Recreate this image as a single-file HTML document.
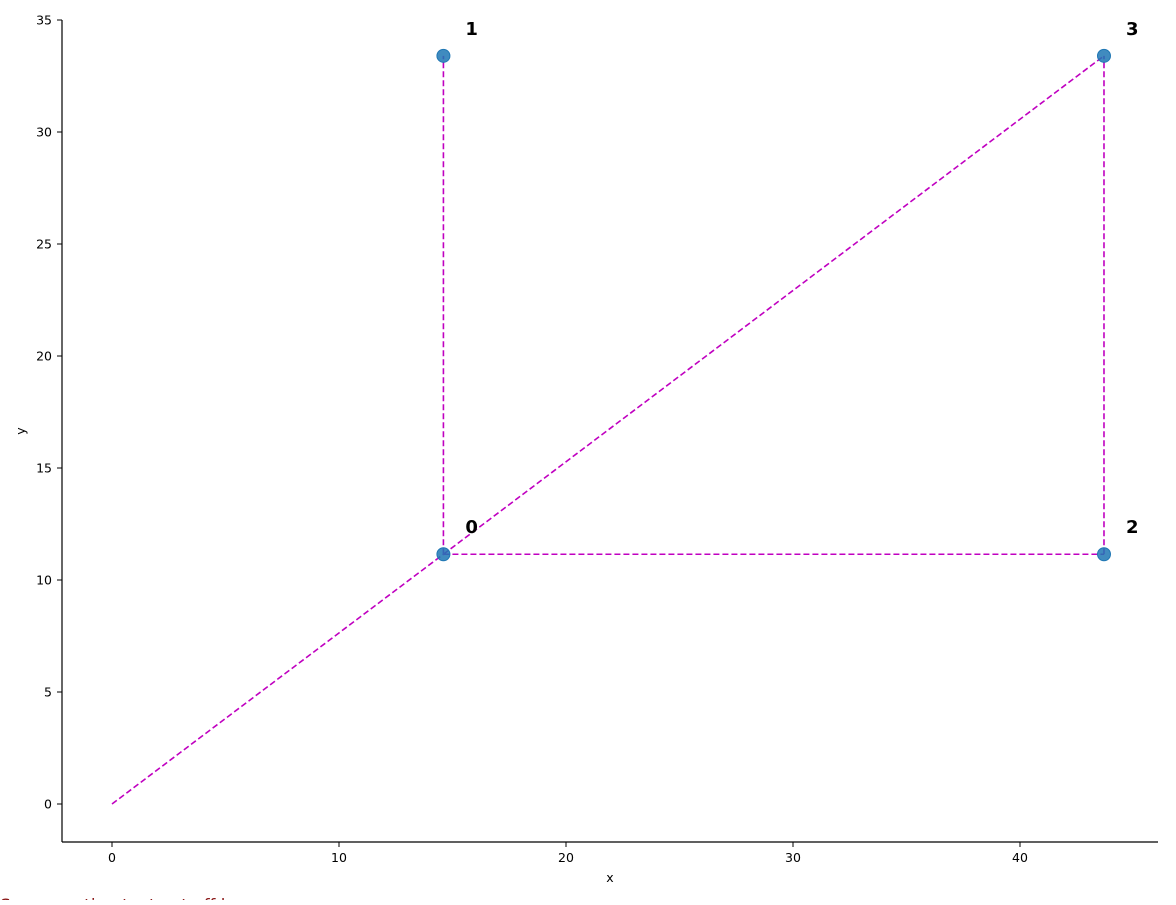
<!DOCTYPE html>
<html><head><meta charset="utf-8"><style>
body{margin:0;background:#fff;width:1176px;height:900px;overflow:hidden;font-family:"Liberation Sans","DejaVu Sans",sans-serif;}
svg text{font-family:"DejaVu Sans","Liberation Sans",sans-serif;}
</style></head><body>
<svg id="chart" width="1176" height="900" xmlns="http://www.w3.org/2000/svg">
<g id="grid"></g>
<text x="0" y="911" font-size="17" fill="#8b1a1a">Some caption text cut off here ....</text>
</svg>
<script>
const pxs=[14.6,14.6,43.7,43.7];
const pys=[11.15,33.4,11.15,33.4];
const labels=["0","1","2","3"];
const segFrom=[-1,0,0,0,2];
const segTo=[0,1,2,3,3];
const xTicks=[0,10,20,30,40];
const yTicks=[0,5,10,15,20,25,30,35];
const X=v=>112+v*22.7;
const Y=v=>804-v*22.4;
const svg=document.getElementById('chart');
const NS='http://www.w3.org/2000/svg';
function mk(t,a){const e=document.createElementNS(NS,t);for(const k in a)e.setAttribute(k,a[k]);svg.appendChild(e);return e;}
let e;
e=mk('line',{x1:62,y1:842,x2:1158,y2:842,stroke:'#000','stroke-width':1.2});


e=mk('line',{x1:62,y1:20,x2:62,y2:842,stroke:'#000','stroke-width':1.2});


xTicks.forEach(t=>{
 e=mk('line',{x1:X(t),y1:842,x2:X(t),y2:847,stroke:'#000'});
 
 
 e=mk('text',{x:X(t),y:862,'font-size':12.5,'text-anchor':'middle'});e.textContent=t;
 
 
});
yTicks.forEach(t=>{
 e=mk('line',{x1:57,y1:Y(t),x2:62,y2:Y(t),stroke:'#000'});
 
 
 e=mk('text',{x:52,y:Y(t)+4.5,'font-size':12.5,'text-anchor':'end'});e.textContent=t;
 
 
});
e=mk('text',{x:610,y:882,'font-size':12.5,'text-anchor':'middle'});e.textContent='x';


e=mk('text',{x:25,y:431,'font-size':12.5,'text-anchor':'middle',transform:'rotate(-90 25 431)'});e.textContent='y';


segFrom.forEach((f,i)=>{
 const x1=f<0?X(0):X(pxs[f]),y1=f<0?Y(0):Y(pys[f]);
 const t=segTo[i];
 e=mk('line',{x1:x1,y1:y1,x2:X(pxs[t]),y2:Y(pys[t]),stroke:'#c000c0','stroke-width':1.6,'stroke-dasharray':'6,3'});
 
 
});
pxs.forEach((v,i)=>{
 e=mk('circle',{cx:X(v),cy:Y(pys[i]),r:6.5,fill:'#1f77b4','fill-opacity':0.85,stroke:'#1f77b4'});
 
 
 e=mk('text',{x:X(v)+22,y:Y(pys[i])-21,'font-size':18,'font-weight':'bold'});e.textContent=labels[i];
 
 
});
</script>
</body></html>
